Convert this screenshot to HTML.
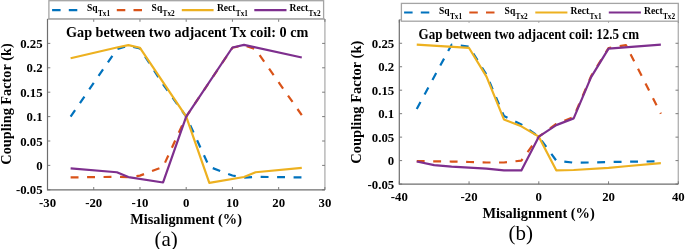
<!DOCTYPE html>
<html><head><meta charset="utf-8"><style>
html,body{margin:0;padding:0;background:#fff;}
svg{display:block;will-change:transform;}
.tk,.tt,.lg{font-family:"Liberation Serif",serif;font-weight:bold;fill:#000;}
.cap{font-family:"Liberation Serif",serif;font-weight:normal;fill:#000;}
</style></head><body>
<svg width="685" height="249" viewBox="0 0 685 249">
<rect width="685" height="249" fill="#fff"/>
<polyline points="70.62,116.60 116.85,49.26 128.41,45.60 139.97,48.52 163.08,84.39 186.20,116.60 209.32,166.86 232.43,175.50 243.99,177.60 255.55,176.87 301.78,177.40" fill="none" stroke="#0072BD" stroke-width="2.2" stroke-linejoin="round" stroke-dasharray="7.9 8.57"/>
<polyline points="70.62,177.40 116.85,176.87 128.41,177.11 139.97,175.65 163.08,166.86 186.20,116.60 232.43,47.79 243.99,45.35 255.55,49.26 301.78,115.14" fill="none" stroke="#D95319" stroke-width="2.2" stroke-linejoin="round" stroke-dasharray="7.9 8.57"/>
<polyline points="70.62,58.28 116.85,47.55 128.41,45.11 139.97,47.79 186.20,116.60 209.32,182.82 243.99,177.01 255.55,172.23 301.78,167.84" fill="none" stroke="#EDB120" stroke-width="2.2" stroke-linejoin="round"/>
<polyline points="70.62,168.33 116.85,172.23 128.41,177.11 163.08,182.48 186.20,116.60 232.43,47.50 243.99,44.86 301.78,57.55" fill="none" stroke="#7E2F8E" stroke-width="2.2" stroke-linejoin="round"/>
<line x1="47.50" y1="19.00" x2="324.90" y2="19.00" stroke="#b4b4b4" stroke-width="1.4"/>
<line x1="324.90" y1="19.00" x2="324.90" y2="189.80" stroke="#b4b4b4" stroke-width="1.4"/>
<line x1="47.50" y1="189.80" x2="324.90" y2="189.80" stroke="#6e6e6e" stroke-width="1.2"/>
<line x1="47.50" y1="19.00" x2="47.50" y2="190.40" stroke="#6e6e6e" stroke-width="1.2"/>
<line x1="47.50" y1="189.80" x2="47.50" y2="187.00" stroke="#6e6e6e" stroke-width="0.9"/>
<line x1="47.50" y1="19.00" x2="47.50" y2="21.80" stroke="#6e6e6e" stroke-width="0.9"/>
<line x1="93.73" y1="189.80" x2="93.73" y2="187.00" stroke="#6e6e6e" stroke-width="0.9"/>
<line x1="93.73" y1="19.00" x2="93.73" y2="21.80" stroke="#6e6e6e" stroke-width="0.9"/>
<line x1="139.97" y1="189.80" x2="139.97" y2="187.00" stroke="#6e6e6e" stroke-width="0.9"/>
<line x1="139.97" y1="19.00" x2="139.97" y2="21.80" stroke="#6e6e6e" stroke-width="0.9"/>
<line x1="186.20" y1="189.80" x2="186.20" y2="187.00" stroke="#6e6e6e" stroke-width="0.9"/>
<line x1="186.20" y1="19.00" x2="186.20" y2="21.80" stroke="#6e6e6e" stroke-width="0.9"/>
<line x1="232.43" y1="189.80" x2="232.43" y2="187.00" stroke="#6e6e6e" stroke-width="0.9"/>
<line x1="232.43" y1="19.00" x2="232.43" y2="21.80" stroke="#6e6e6e" stroke-width="0.9"/>
<line x1="278.67" y1="189.80" x2="278.67" y2="187.00" stroke="#6e6e6e" stroke-width="0.9"/>
<line x1="278.67" y1="19.00" x2="278.67" y2="21.80" stroke="#6e6e6e" stroke-width="0.9"/>
<line x1="324.90" y1="189.80" x2="324.90" y2="187.00" stroke="#6e6e6e" stroke-width="0.9"/>
<line x1="324.90" y1="19.00" x2="324.90" y2="21.80" stroke="#6e6e6e" stroke-width="0.9"/>
<line x1="47.50" y1="189.80" x2="50.30" y2="189.80" stroke="#6e6e6e" stroke-width="0.9"/>
<line x1="324.90" y1="189.80" x2="322.10" y2="189.80" stroke="#6e6e6e" stroke-width="0.9"/>
<line x1="47.50" y1="165.40" x2="50.30" y2="165.40" stroke="#6e6e6e" stroke-width="0.9"/>
<line x1="324.90" y1="165.40" x2="322.10" y2="165.40" stroke="#6e6e6e" stroke-width="0.9"/>
<line x1="47.50" y1="141.00" x2="50.30" y2="141.00" stroke="#6e6e6e" stroke-width="0.9"/>
<line x1="324.90" y1="141.00" x2="322.10" y2="141.00" stroke="#6e6e6e" stroke-width="0.9"/>
<line x1="47.50" y1="116.60" x2="50.30" y2="116.60" stroke="#6e6e6e" stroke-width="0.9"/>
<line x1="324.90" y1="116.60" x2="322.10" y2="116.60" stroke="#6e6e6e" stroke-width="0.9"/>
<line x1="47.50" y1="92.20" x2="50.30" y2="92.20" stroke="#6e6e6e" stroke-width="0.9"/>
<line x1="324.90" y1="92.20" x2="322.10" y2="92.20" stroke="#6e6e6e" stroke-width="0.9"/>
<line x1="47.50" y1="67.80" x2="50.30" y2="67.80" stroke="#6e6e6e" stroke-width="0.9"/>
<line x1="324.90" y1="67.80" x2="322.10" y2="67.80" stroke="#6e6e6e" stroke-width="0.9"/>
<line x1="47.50" y1="43.40" x2="50.30" y2="43.40" stroke="#6e6e6e" stroke-width="0.9"/>
<line x1="324.90" y1="43.40" x2="322.10" y2="43.40" stroke="#6e6e6e" stroke-width="0.9"/>
<text x="42.60" y="194.30" text-anchor="end" class="tk" font-size="12.8">-0.05</text>
<text x="42.60" y="169.90" text-anchor="end" class="tk" font-size="12.8">0</text>
<text x="42.60" y="145.50" text-anchor="end" class="tk" font-size="12.8">0.05</text>
<text x="42.60" y="121.10" text-anchor="end" class="tk" font-size="12.8">0.1</text>
<text x="42.60" y="96.70" text-anchor="end" class="tk" font-size="12.8">0.15</text>
<text x="42.60" y="72.30" text-anchor="end" class="tk" font-size="12.8">0.2</text>
<text x="42.60" y="47.90" text-anchor="end" class="tk" font-size="12.8">0.25</text>
<text x="47.50" y="206.50" text-anchor="middle" class="tk" font-size="12.8">-30</text>
<text x="93.73" y="206.50" text-anchor="middle" class="tk" font-size="12.8">-20</text>
<text x="139.97" y="206.50" text-anchor="middle" class="tk" font-size="12.8">-10</text>
<text x="186.20" y="206.50" text-anchor="middle" class="tk" font-size="12.8">0</text>
<text x="232.43" y="206.50" text-anchor="middle" class="tk" font-size="12.8">10</text>
<text x="278.67" y="206.50" text-anchor="middle" class="tk" font-size="12.8">20</text>
<text x="324.90" y="206.50" text-anchor="middle" class="tk" font-size="12.8">30</text>
<rect x="48.90" y="0.70" width="274.70" height="18.10" fill="#fff" stroke="#a4a4a4" stroke-width="1.3"/>
<line x1="52.10" y1="10.20" x2="85.00" y2="10.20" stroke="#0072BD" stroke-width="2.2" stroke-dasharray="8.5 8.2"/>
<text x="87.00" y="11.40" class="lg" font-size="9.6">Sq<tspan font-size="7.3" dx="0.3" dy="4.9">Tx1</tspan></text>
<line x1="116.80" y1="10.20" x2="150.00" y2="10.20" stroke="#D95319" stroke-width="2.2" stroke-dasharray="8.5 8.2"/>
<text x="151.60" y="11.40" class="lg" font-size="9.6">Sq<tspan font-size="7.3" dx="0.3" dy="4.9">Tx2</tspan></text>
<line x1="181.80" y1="10.20" x2="213.60" y2="10.20" stroke="#EDB120" stroke-width="2.2"/>
<text x="216.90" y="11.40" class="lg" font-size="9.6">Rect<tspan font-size="7.3" dx="0.3" dy="4.9">Tx1</tspan></text>
<line x1="254.30" y1="10.20" x2="286.50" y2="10.20" stroke="#7E2F8E" stroke-width="2.2"/>
<text x="289.50" y="11.40" class="lg" font-size="9.6">Rect<tspan font-size="7.3" dx="0.3" dy="4.9">Tx2</tspan></text>
<text x="66.0" y="36.7" class="tt" font-size="14.1" textLength="242.4" lengthAdjust="spacingAndGlyphs">Gap between two adjacent Tx coil: 0 cm</text>
<text x="186.1" y="223.8" text-anchor="middle" class="tt" font-size="14" textLength="111.6" lengthAdjust="spacingAndGlyphs">Misalignment (%)</text>
<text transform="translate(11.3,104.0) rotate(-90)" x="0" y="0" text-anchor="middle" class="tt" font-size="14.3">Coupling Factor (k)</text>
<text x="166.2" y="246.2" text-anchor="middle" class="cap" font-size="21">(a)</text>
<polyline points="416.74,108.98 451.61,44.68 469.05,46.56 486.49,74.72 503.92,116.02 521.36,124.46 538.80,136.67 556.24,160.60 573.67,162.71 591.11,162.48 608.55,162.01 625.99,161.77 660.86,161.30" fill="none" stroke="#0072BD" stroke-width="2.2" stroke-linejoin="round" stroke-dasharray="7.9 8.57"/>
<polyline points="416.74,161.07 451.61,161.54 469.05,162.01 486.49,162.48 503.92,162.48 521.36,160.60 538.80,136.67 556.24,123.99 573.67,116.96 591.11,76.13 608.55,47.97 625.99,45.15 660.86,113.67" fill="none" stroke="#D95319" stroke-width="2.2" stroke-linejoin="round" stroke-dasharray="7.9 8.57"/>
<polyline points="416.74,44.68 469.05,47.97 486.49,76.60 503.92,119.40 521.36,126.34 538.80,136.67 556.24,170.31 573.67,169.99 608.55,167.87 625.99,166.23 660.86,163.09" fill="none" stroke="#EDB120" stroke-width="2.2" stroke-linejoin="round"/>
<polyline points="416.74,161.54 434.18,165.11 451.61,166.70 469.05,167.64 486.49,168.58 503.92,170.31 521.36,170.46 538.80,136.67 556.24,125.12 573.67,118.36 591.11,77.06 608.55,48.67 660.86,44.68" fill="none" stroke="#7E2F8E" stroke-width="2.2" stroke-linejoin="round"/>
<line x1="399.30" y1="19.80" x2="678.30" y2="19.80" stroke="#b4b4b4" stroke-width="1.4"/>
<line x1="678.30" y1="19.80" x2="678.30" y2="184.10" stroke="#b4b4b4" stroke-width="1.4"/>
<line x1="399.30" y1="184.10" x2="678.30" y2="184.10" stroke="#6e6e6e" stroke-width="1.2"/>
<line x1="399.30" y1="19.80" x2="399.30" y2="184.70" stroke="#6e6e6e" stroke-width="1.2"/>
<line x1="399.30" y1="184.10" x2="399.30" y2="181.30" stroke="#6e6e6e" stroke-width="0.9"/>
<line x1="399.30" y1="19.80" x2="399.30" y2="22.60" stroke="#6e6e6e" stroke-width="0.9"/>
<line x1="469.05" y1="184.10" x2="469.05" y2="181.30" stroke="#6e6e6e" stroke-width="0.9"/>
<line x1="469.05" y1="19.80" x2="469.05" y2="22.60" stroke="#6e6e6e" stroke-width="0.9"/>
<line x1="538.80" y1="184.10" x2="538.80" y2="181.30" stroke="#6e6e6e" stroke-width="0.9"/>
<line x1="538.80" y1="19.80" x2="538.80" y2="22.60" stroke="#6e6e6e" stroke-width="0.9"/>
<line x1="608.55" y1="184.10" x2="608.55" y2="181.30" stroke="#6e6e6e" stroke-width="0.9"/>
<line x1="608.55" y1="19.80" x2="608.55" y2="22.60" stroke="#6e6e6e" stroke-width="0.9"/>
<line x1="678.30" y1="184.10" x2="678.30" y2="181.30" stroke="#6e6e6e" stroke-width="0.9"/>
<line x1="678.30" y1="19.80" x2="678.30" y2="22.60" stroke="#6e6e6e" stroke-width="0.9"/>
<line x1="399.30" y1="184.06" x2="402.10" y2="184.06" stroke="#6e6e6e" stroke-width="0.9"/>
<line x1="678.30" y1="184.06" x2="675.50" y2="184.06" stroke="#6e6e6e" stroke-width="0.9"/>
<line x1="399.30" y1="160.60" x2="402.10" y2="160.60" stroke="#6e6e6e" stroke-width="0.9"/>
<line x1="678.30" y1="160.60" x2="675.50" y2="160.60" stroke="#6e6e6e" stroke-width="0.9"/>
<line x1="399.30" y1="137.13" x2="402.10" y2="137.13" stroke="#6e6e6e" stroke-width="0.9"/>
<line x1="678.30" y1="137.13" x2="675.50" y2="137.13" stroke="#6e6e6e" stroke-width="0.9"/>
<line x1="399.30" y1="113.67" x2="402.10" y2="113.67" stroke="#6e6e6e" stroke-width="0.9"/>
<line x1="678.30" y1="113.67" x2="675.50" y2="113.67" stroke="#6e6e6e" stroke-width="0.9"/>
<line x1="399.30" y1="90.20" x2="402.10" y2="90.20" stroke="#6e6e6e" stroke-width="0.9"/>
<line x1="678.30" y1="90.20" x2="675.50" y2="90.20" stroke="#6e6e6e" stroke-width="0.9"/>
<line x1="399.30" y1="66.74" x2="402.10" y2="66.74" stroke="#6e6e6e" stroke-width="0.9"/>
<line x1="678.30" y1="66.74" x2="675.50" y2="66.74" stroke="#6e6e6e" stroke-width="0.9"/>
<line x1="399.30" y1="43.27" x2="402.10" y2="43.27" stroke="#6e6e6e" stroke-width="0.9"/>
<line x1="678.30" y1="43.27" x2="675.50" y2="43.27" stroke="#6e6e6e" stroke-width="0.9"/>
<text x="394.20" y="188.76" text-anchor="end" class="tk" font-size="12.8">-0.05</text>
<text x="394.20" y="165.30" text-anchor="end" class="tk" font-size="12.8">0</text>
<text x="394.20" y="141.83" text-anchor="end" class="tk" font-size="12.8">0.05</text>
<text x="394.20" y="118.37" text-anchor="end" class="tk" font-size="12.8">0.1</text>
<text x="394.20" y="94.91" text-anchor="end" class="tk" font-size="12.8">0.15</text>
<text x="394.20" y="71.44" text-anchor="end" class="tk" font-size="12.8">0.2</text>
<text x="394.20" y="47.97" text-anchor="end" class="tk" font-size="12.8">0.25</text>
<text x="399.30" y="200.60" text-anchor="middle" class="tk" font-size="12.8">-40</text>
<text x="469.05" y="200.60" text-anchor="middle" class="tk" font-size="12.8">-20</text>
<text x="538.80" y="200.60" text-anchor="middle" class="tk" font-size="12.8">0</text>
<text x="608.55" y="200.60" text-anchor="middle" class="tk" font-size="12.8">20</text>
<text x="678.30" y="200.60" text-anchor="middle" class="tk" font-size="12.8">40</text>
<rect x="401.40" y="3.40" width="276.90" height="17.80" fill="#fff" stroke="#a4a4a4" stroke-width="1.3"/>
<line x1="404.10" y1="12.50" x2="437.00" y2="12.50" stroke="#0072BD" stroke-width="2.2" stroke-dasharray="8.5 8.2"/>
<text x="439.00" y="13.70" class="lg" font-size="9.6">Sq<tspan font-size="7.3" dx="0.3" dy="5.4">Tx1</tspan></text>
<line x1="469.30" y1="12.50" x2="502.00" y2="12.50" stroke="#D95319" stroke-width="2.2" stroke-dasharray="8.5 8.2"/>
<text x="504.60" y="13.70" class="lg" font-size="9.6">Sq<tspan font-size="7.3" dx="0.3" dy="5.4">Tx2</tspan></text>
<line x1="535.30" y1="12.50" x2="567.40" y2="12.50" stroke="#EDB120" stroke-width="2.2"/>
<text x="570.50" y="13.70" class="lg" font-size="9.6">Rect<tspan font-size="7.3" dx="0.3" dy="5.4">Tx1</tspan></text>
<line x1="608.80" y1="12.50" x2="640.90" y2="12.50" stroke="#7E2F8E" stroke-width="2.2"/>
<text x="644.00" y="13.70" class="lg" font-size="9.6">Rect<tspan font-size="7.3" dx="0.3" dy="5.4">Tx2</tspan></text>
<text x="418.5" y="39.0" class="tt" font-size="14.1" textLength="220.5" lengthAdjust="spacingAndGlyphs">Gap between two adjacent coil: 12.5 cm</text>
<text x="538.6" y="217.9" text-anchor="middle" class="tt" font-size="14" textLength="112.4" lengthAdjust="spacingAndGlyphs">Misalignment (%)</text>
<text transform="translate(361.2,102.2) rotate(-90)" x="0" y="0" text-anchor="middle" class="tt" font-size="14.5">Coupling Factor (k)</text>
<text x="520.7" y="240.2" text-anchor="middle" class="cap" font-size="21">(b)</text>
</svg>
</body></html>
